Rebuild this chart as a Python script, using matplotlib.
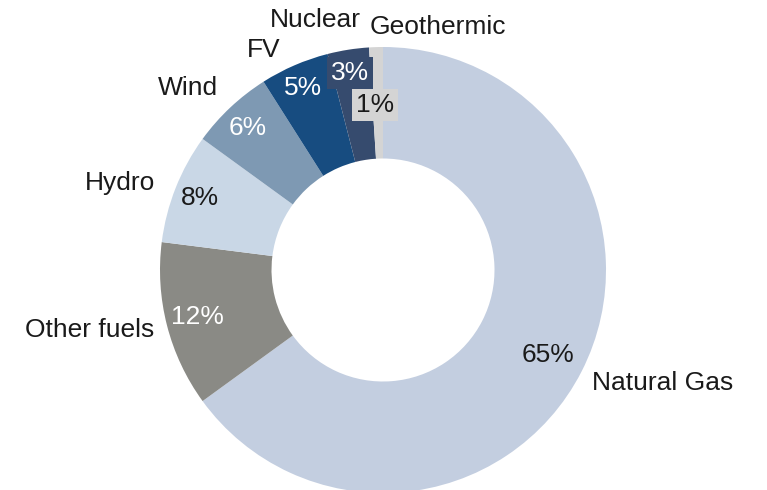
import matplotlib.pyplot as plt

# Energy mix shares (%), clockwise from 12 o'clock
labels = ["Natural Gas", "Other fuels", "Hydro", "Wind", "FV", "Nuclear", "Geothermic"]
shares = [65, 12, 8, 6, 5, 3, 1]
colors = ["#C3CEE0", "#8A8A85", "#C9D7E6", "#7E99B3", "#174C80", "#364B6E", "#D4D4D4"]

plt.rcParams['font.family'] = ['Liberation Sans', 'DejaVu Sans']

fig = plt.figure(figsize=(7.67, 4.90), dpi=100)
ax = fig.add_axes([160 / 767, -3 / 490, 446 / 767, 446 / 490])

wedges, _ = ax.pie(shares, colors=colors, startangle=90, counterclock=False,
                   radius=1.0, wedgeprops=dict(width=0.5, linewidth=0))
ax.set_xlim(-1, 1)
ax.set_ylim(-1, 1)
ax.set_aspect('equal')
ax.axis('off')

# label positions (data coords)
name_pos = [(1.256, -0.507), (-1.314, -0.269), (-1.18, 0.39), (-0.874, 0.816),
            (-0.534, 0.987), (-0.305, 1.121), (0.247, 1.09)]
pct_pos = [(0.74, -0.381), (-0.83, -0.211), (-0.82, 0.323), (-0.605, 0.637),
           (-0.359, 0.816), (-0.148, 0.883), (-0.036, 0.74)]
pct_colors = ["#1A1A1A", "white", "#1A1A1A", "white", "white", "white", "#1A1A1A"]
pct_boxes = [None, None, None, None, None, "#364B6E", "#D4D4D4"]

fs = 19
for name, (x, y) in zip(labels, name_pos):
    ax.text(x, y, name, ha='center', va='center', fontsize=fs, color="#1A1A1A")

for v, (x, y), c, b in zip(shares, pct_pos, pct_colors, pct_boxes):
    bbox = None
    if b is not None:
        bbox = dict(boxstyle='square,pad=0.16', facecolor=b, edgecolor='none')
    ax.text(x, y, f"{v}%", ha='center', va='center', fontsize=fs, color=c, bbox=bbox)

fig.savefig("out.png", dpi=100)
